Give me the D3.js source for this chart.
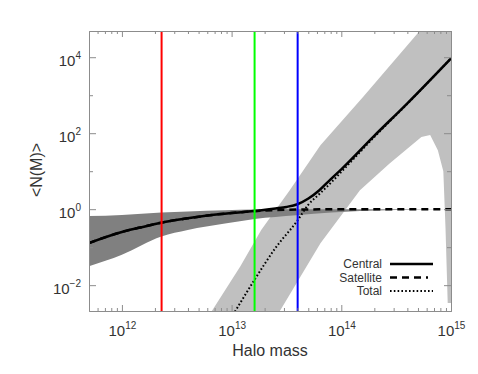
<!DOCTYPE html>
<html>
<head>
<meta charset="utf-8">
<title>HOD</title>
<script src="https://d3js.org/d3.v7.min.js"></script>
<style>
  body { margin: 0; background: #fff; }
  svg text { font-family: "Liberation Sans", Arial, sans-serif; fill: #333; }
</style>
</head>
<body>
<svg id="chart" width="478" height="374"></svg>
<script>
// values are log10(halo mass) and log10(<N(M)>)
const centralLogM = [11.7, 12.0, 12.2, 12.4, 12.6, 12.8, 13.0, 13.2, 13.4, 13.6, 13.8, 14.0, 15.0];
const centralLogN = [-0.89, -0.6, -0.46, -0.33, -0.24, -0.16, -0.1, -0.055, -0.025, -0.01, -0.004, 0, 0];

const totalLogM = [11.7, 12.0, 12.2, 12.4, 12.6, 12.8, 13.0, 13.2, 13.4, 13.5, 13.6, 13.7, 13.8, 13.9, 14.0, 14.3, 14.6, 15.0];
const totalLogN = [-0.89, -0.6, -0.46, -0.33, -0.24, -0.16, -0.1, -0.05, 0.02, 0.06, 0.13, 0.28, 0.5, 0.78, 1.05, 1.93, 2.78, 3.97];

const satLogM = [13.03, 13.2, 13.4, 13.6, 13.7, 13.8, 13.9, 14.0, 14.3, 14.6, 15.0];
const satLogN = [-2.7, -1.9, -1.02, -0.3, 0.12, 0.4, 0.68, 0.98, 1.9, 2.77, 3.97];

// dark band round the central curve
const darkLogM = [11.7, 12.0, 12.36, 12.6, 12.94, 13.21, 13.59, 13.91, 14.17, 14.5, 15.0];
const darkUpperLogN = [-0.18, -0.15, -0.09, -0.06, -0.03, -0.01, 0.0, 0.0, 0.0, 0.0, 0.0];
const darkLowerLogN = [-1.5, -1.2, -0.72, -0.55, -0.38, -0.26, -0.16, -0.09, -0.05, -0.02, -0.005];

// light band round the satellite curve
const lightUpperLogM = [12.78, 12.82, 13.08, 13.27, 13.53, 13.81, 14.2, 14.72, 14.9, 15.0];
const lightUpperLogN = [-2.8, -2.68, -1.5, -0.55, 0.5, 1.68, 2.96, 4.71, 5.3, 5.5];
const lightLowerLogM = [13.40, 13.44, 13.81, 14.17, 14.44, 14.73, 14.81, 14.88, 14.93, 14.95, 14.97, 15.0];
const lightLowerLogN = [-2.85, -2.68, -0.9, 0.5, 1.2, 1.9, 1.95, 1.55, 1.0, -0.5, -2.47, -2.47];

// vertical markers
const markerMass = [2.3e12, 1.62e13, 4.0e13];
const markerColor = ["#ff0000", "#00ff00", "#0000ff"];

const xMajor = [1e12, 1e13, 1e14, 1e15];
const xExp = ["12", "13", "14", "15"];
const yMajor = [1e-2, 1e0, 1e2, 1e4];
const yExp = ["\u22122", "0", "2", "4"];
const yMinor = [1e-1, 1e1, 1e3];

const legendNames = ["Central", "Satellite", "Total"];

const svg = d3.select("#chart");
const pLeft = 89, pRight = 451, pTop = 31, pBottom = 311;

const x = d3.scaleLog().domain([Math.pow(10, 11.7), 1e15]).range([pLeft, pRight]);
const y = d3.scaleLog().domain([Math.pow(10, -2.68), Math.pow(10, 4.69)]).range([pBottom, pTop]);

const pts = (ms, ns) => ms.map((m, i) => [Math.pow(10, m), Math.pow(10, ns[i])]);

svg.append("clipPath").attr("id", "plot")
  .append("rect").attr("x", pLeft).attr("y", pTop)
  .attr("width", pRight - pLeft).attr("height", pBottom - pTop);

const plot = svg.append("g").attr("clip-path", "url(#plot)");

// light band as a closed polygon
const lightPoly = pts(lightUpperLogM, lightUpperLogN)
  .concat(pts(lightLowerLogM, lightLowerLogN).reverse());
plot.append("path")
  .attr("d", d3.line().x(d => x(d[0])).y(d => y(d[1])).curve(d3.curveLinearClosed)(lightPoly))
  .attr("fill", "#c0c0c0");

// dark band
const darkRows = darkLogM.map((m, i) => ({ m: Math.pow(10, m), lo: Math.pow(10, darkLowerLogN[i]), hi: Math.pow(10, darkUpperLogN[i]) }));
plot.append("path")
  .attr("d", d3.area().x(d => x(d.m)).y0(d => y(d.lo)).y1(d => y(d.hi)).curve(d3.curveMonotoneX)(darkRows))
  .attr("fill", "#808080");

const line = d3.line().x(d => x(d[0])).y(d => y(d[1])).curve(d3.curveMonotoneX);

plot.append("path").attr("d", line(pts(centralLogM, centralLogN)))
  .attr("fill", "none").attr("stroke", "#000").attr("stroke-width", 2.5)
  .attr("stroke-dasharray", "7,5");
plot.append("path").attr("d", line(pts(satLogM, satLogN)))
  .attr("fill", "none").attr("stroke", "#000").attr("stroke-width", 2)
  .attr("stroke-dasharray", "1.6,2.2");
plot.append("path").attr("d", line(pts(totalLogM, totalLogN)))
  .attr("fill", "none").attr("stroke", "#000").attr("stroke-width", 2.5);

plot.selectAll(".marker").data(markerMass).enter().append("line")
  .attr("x1", d => x(d)).attr("x2", d => x(d))
  .attr("y1", pTop).attr("y2", pBottom)
  .attr("stroke", (d, i) => markerColor[i]).attr("stroke-width", 2);

// axes (ticks point inward on all four sides)
const xMinor = [];
for (let e = 11; e <= 14; e++) for (let k = 2; k <= 9; k++) {
  const v = k * Math.pow(10, e);
  if (v > x.domain()[0] * 1.05 && v < 1e15) xMinor.push(v);
}

function styleAxis(g) {
  g.selectAll("path.domain").attr("stroke", "#8c8c8c");
  g.selectAll(".tick line").attr("stroke", "#8c8c8c");
}

const gx = svg.append("g").attr("transform", `translate(0,${pBottom})`)
  .call(d3.axisBottom(x).tickValues(xMajor).tickSize(-6).tickSizeOuter(0).tickFormat(""));
svg.append("g").attr("transform", `translate(0,${pBottom})`)
  .call(d3.axisBottom(x).tickValues(xMinor).tickSize(-3).tickSizeOuter(0).tickFormat("")).call(styleAxis);
svg.append("g").attr("transform", `translate(0,${pTop})`)
  .call(d3.axisTop(x).tickValues(xMajor).tickSize(-6).tickSizeOuter(0).tickFormat("")).call(styleAxis);
svg.append("g").attr("transform", `translate(0,${pTop})`)
  .call(d3.axisTop(x).tickValues(xMinor).tickSize(-3).tickSizeOuter(0).tickFormat("")).call(styleAxis);

const gy = svg.append("g").attr("transform", `translate(${pLeft},0)`)
  .call(d3.axisLeft(y).tickValues(yMajor).tickSize(-7).tickSizeOuter(0).tickFormat(""));
svg.append("g").attr("transform", `translate(${pLeft},0)`)
  .call(d3.axisLeft(y).tickValues(yMinor).tickSize(-4).tickSizeOuter(0).tickFormat("")).call(styleAxis);
svg.append("g").attr("transform", `translate(${pRight},0)`)
  .call(d3.axisRight(y).tickValues(yMajor).tickSize(-7).tickSizeOuter(0).tickFormat("")).call(styleAxis);
svg.append("g").attr("transform", `translate(${pRight},0)`)
  .call(d3.axisRight(y).tickValues(yMinor).tickSize(-4).tickSizeOuter(0).tickFormat("")).call(styleAxis);
styleAxis(gx);
styleAxis(gy);

// power-of-ten labels
gx.selectAll(".tick").each(function (d, i) {
  const t = d3.select(this).append("text")
    .attr("y", 25).attr("text-anchor", "middle")
    .style("font-size", "15px").attr("fill", "#333");
  t.append("tspan").text("10");
  t.append("tspan").attr("dy", -7).style("font-size", "10px").text(xExp[i]);
});
gy.selectAll(".tick").each(function (d, i) {
  const t = d3.select(this).append("text")
    .attr("x", -8).attr("y", 8).attr("text-anchor", "end")
    .style("font-size", "15px").attr("fill", "#333");
  t.append("tspan").text("10");
  t.append("tspan").attr("dy", -7).style("font-size", "10px").text(yExp[i]);
});

svg.append("text").attr("x", 270).attr("y", 356).attr("text-anchor", "middle")
  .style("font-size", "16px").text("Halo mass");
svg.append("text").attr("transform", "translate(42,170) rotate(-90)")
  .attr("text-anchor", "middle").style("font-size", "16px").text("<N(M)>");

// legend
const legendDash = [null, "7,5", "1.6,2.2"];
const legendWidth = [2.5, 2.5, 2];
const legendEnd = [433, 428, 433];
const lg = svg.append("g");
legendNames.forEach((name, i) => {
  const yy = 264 + i * 13.5;
  lg.append("text").attr("x", 382).attr("y", yy + 4).attr("text-anchor", "end")
    .style("font-size", "12px").text(name);
  lg.append("line").attr("x1", 390).attr("x2", legendEnd[i]).attr("y1", yy).attr("y2", yy)
    .attr("stroke", "#000").attr("stroke-width", legendWidth[i])
    .attr("stroke-dasharray", legendDash[i]);
});
</script>
</body>
</html>
